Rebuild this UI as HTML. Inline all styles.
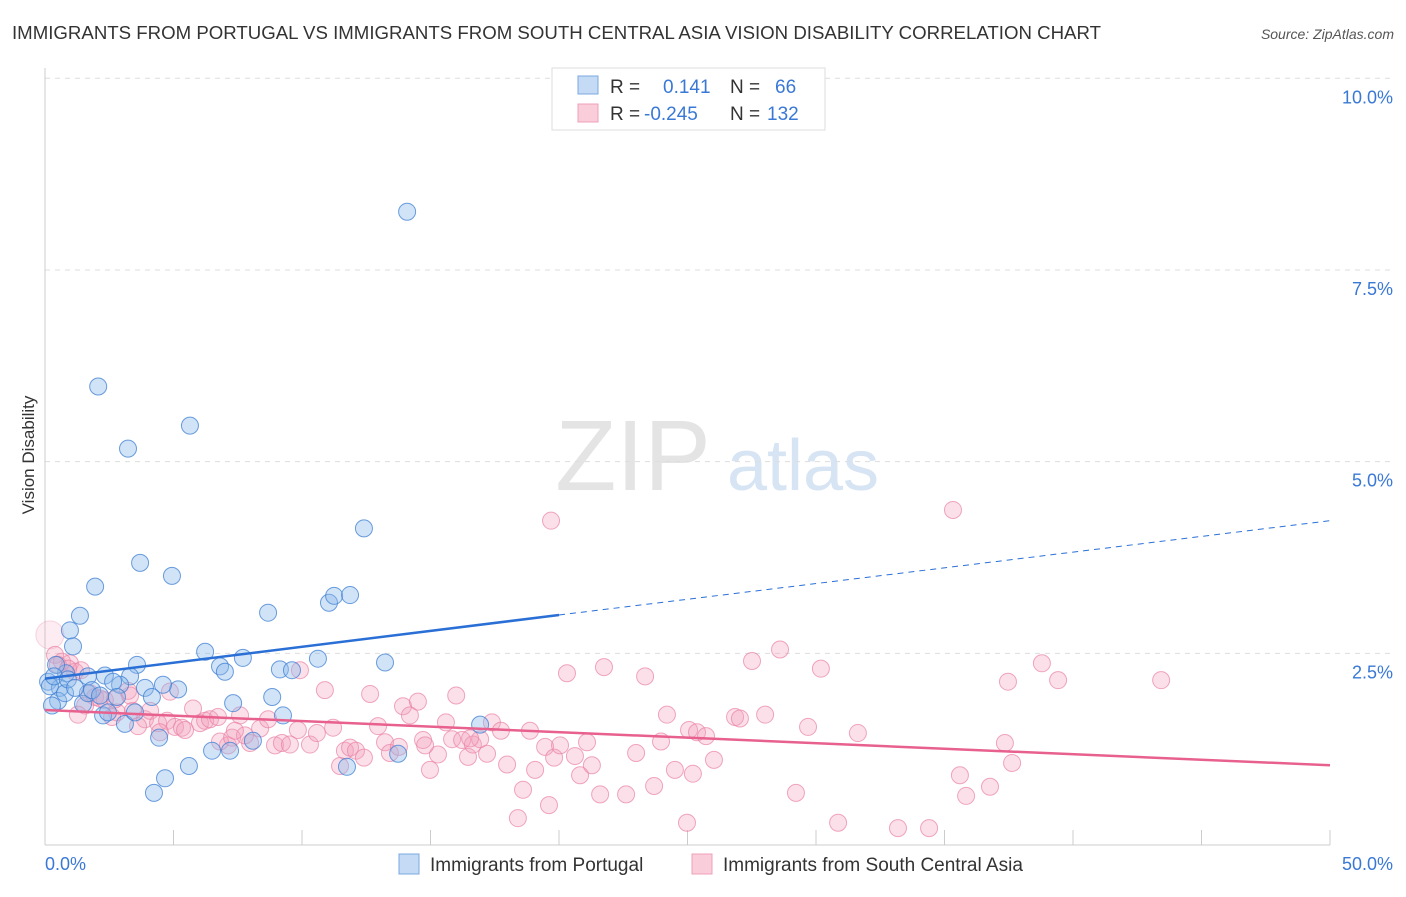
<!DOCTYPE html>
<html><head><meta charset="utf-8"><style>
body{margin:0;background:#fff;font-family:"Liberation Sans",sans-serif;}
svg text{font-family:"Liberation Sans",sans-serif;}
</style></head><body>
<svg id="chart" width="1406" height="892" xmlns="http://www.w3.org/2000/svg">
<text x="12" y="39" font-size="18" fill="#333" textLength="1089" lengthAdjust="spacingAndGlyphs">IMMIGRANTS FROM PORTUGAL VS IMMIGRANTS FROM SOUTH CENTRAL ASIA VISION DISABILITY CORRELATION CHART</text>
<text x="1394" y="39" font-size="14" fill="#555" font-style="italic" text-anchor="end">Source: ZipAtlas.com</text>
<text x="633" y="490" font-size="100" fill="#e4e4e4" font-family="Liberation Serif" text-anchor="middle">ZIP</text>
<text x="803" y="490" font-size="72" fill="#d6e4f4" text-anchor="middle">atlas</text>
<text transform="translate(34,455) rotate(-90)" font-size="17" fill="#333" text-anchor="middle">Vision Disability</text>
<g id="grid"></g><g id="pinkg"></g><g id="blueg"></g><g id="lines"></g>
<g>
<rect x="552" y="68" width="273" height="62" fill="#fff" stroke="#ddd"/>
<rect x="578" y="76" width="20" height="18" fill="#c5dbf5" stroke="#7aa8e0"/>
<rect x="578" y="104" width="20" height="18" fill="#f9cdd9" stroke="#eea0b8"/>
<text x="610" y="93" font-size="19" fill="#333">R =</text><text x="663" y="93" font-size="19" fill="#3a78d6">0.141</text>
<text x="730" y="93" font-size="19" fill="#333">N =</text><text x="775" y="93" font-size="19" fill="#3a78d6">66</text>
<text x="610" y="120" font-size="19" fill="#333">R =</text><text x="644" y="120" font-size="19" fill="#3a78d6">-0.245</text>
<text x="730" y="120" font-size="19" fill="#333">N =</text><text x="767" y="120" font-size="19" fill="#3a78d6">132</text>
</g>
<g>
<rect x="399" y="854" width="20" height="20" fill="#c5dbf5" stroke="#7aa8e0"/>
<text x="430" y="871" font-size="19" fill="#333">Immigrants from Portugal</text>
<rect x="692" y="854" width="20" height="20" fill="#f9cdd9" stroke="#eea0b8"/>
<text x="723" y="871" font-size="19" fill="#333">Immigrants from South Central Asia</text>
</g>
<text x="45" y="870" font-size="18" fill="#3a78d6">0.0%</text>
<text x="1393" y="870" font-size="18" fill="#3a78d6" text-anchor="end">50.0%</text>
</svg>
<script>
const yTicks=[2.5,5,7.5,10];
const yTickLabels=["2.5%","5.0%","7.5%","10.0%"];
const xTicks=[0,5,10,15,20,25,30,35,40,45,50];
const blueX=[2.07,5.64,3.23,14.09,12.41,3.70,4.94,1.95,1.36,0.97,1.09,8.68,11.05,11.25,11.87,6.23,7.70,6.81,7.00,9.14,9.61,10.62,13.23,3.58,2.33,3.31,1.67,0.82,0.43,0.12,0.58,0.51,1.48,2.92,2.65,3.89,5.18,4.59,4.16,1.67,1.83,2.80,2.26,2.45,3.11,3.50,7.32,8.84,9.26,4.44,6.50,7.20,8.09,11.75,13.74,5.60,4.67,4.24,16.93,0.19,0.35,0.78,2.14,0.89,1.17,0.27];
const blueY=[5.98,5.47,5.17,8.26,4.13,3.68,3.51,3.37,2.99,2.80,2.59,3.03,3.16,3.25,3.26,2.52,2.44,2.33,2.26,2.29,2.28,2.43,2.38,2.35,2.21,2.20,2.20,2.24,2.35,2.13,2.05,1.88,1.84,2.09,2.13,2.05,2.03,2.09,1.93,1.98,2.02,1.93,1.69,1.73,1.58,1.73,1.85,1.93,1.69,1.40,1.23,1.23,1.36,1.02,1.19,1.03,0.87,0.68,1.57,2.07,2.20,1.98,1.95,2.16,2.05,1.82];
const pinkX=[19.69,35.33,0.19,0.39,0.66,0.97,1.17,1.75,1.95,2.33,2.80,3.23,3.42,3.89,4.09,4.40,4.75,5.06,5.33,5.76,6.03,6.23,6.42,6.73,7.12,6.81,7.28,7.59,7.98,8.37,8.68,8.95,9.22,9.53,9.84,10.31,10.58,10.89,11.21,11.48,11.67,11.87,12.10,12.41,12.65,12.96,13.23,13.42,13.77,13.93,14.20,14.51,14.71,14.98,15.29,15.60,15.84,16.00,16.23,16.46,16.65,16.93,17.20,17.39,17.74,17.98,18.40,18.60,18.87,19.07,19.46,19.61,19.81,20.04,20.31,20.62,20.82,21.09,21.28,21.60,21.75,22.61,23.00,23.35,23.70,23.97,24.20,24.51,24.98,25.06,25.37,25.21,25.72,26.03,26.85,27.04,27.51,28.02,28.60,29.22,29.69,30.19,30.86,31.63,33.19,34.40,35.60,35.84,36.77,37.35,37.47,37.63,38.79,39.42,43.43,2.14,2.72,4.47,4.86,1.56,1.28,3.62,2.61,9.92,7.78,7.39,14.79,16.54,3.31,5.45,0.5,1.4,0.9];
const pinkY=[4.23,4.37,2.74,2.48,2.39,2.37,2.26,1.98,1.93,1.89,1.73,2.01,1.75,1.64,1.75,1.59,1.62,1.54,1.53,1.78,1.59,1.62,1.64,1.67,1.30,1.35,1.40,1.69,1.33,1.52,1.64,1.30,1.33,1.31,1.50,1.31,1.46,2.02,1.53,1.03,1.23,1.27,1.23,1.14,1.97,1.55,1.34,1.20,1.28,1.81,1.69,1.87,1.37,0.98,1.18,1.60,1.38,1.95,1.37,1.15,1.31,1.38,1.19,1.60,1.49,1.05,0.35,0.72,1.49,0.98,1.28,0.52,1.14,1.30,2.24,1.16,0.91,1.34,1.04,0.66,2.32,0.66,1.20,2.20,0.77,1.35,1.70,0.98,0.29,1.50,1.47,0.93,1.42,1.11,1.67,1.65,2.40,1.70,2.55,0.68,1.54,2.30,0.29,1.46,0.22,0.22,0.91,0.64,0.76,1.33,2.13,1.07,2.37,2.15,2.15,1.91,1.90,1.47,2.00,1.82,1.70,1.55,1.67,2.28,1.43,1.49,1.30,1.39,1.95,1.50,2.35,2.28,2.30];
const blueTrend=[[0,2.17],[20,3.0],[50,4.23]];
const pinkTrend=[[0,1.76],[50,1.04]];
const sx=v=>45+v*25.7, sy=v=>845-v*76.67;
const NS="http://www.w3.org/2000/svg";
function mk(t,a,p){const e=document.createElementNS(NS,t);for(const k in a)e.setAttribute(k,a[k]);p.appendChild(e);return e;}
const grid=document.getElementById('grid');
yTicks.forEach((v,i)=>{
 const l=mk('line',{x1:45,x2:1394,y1:sy(v),y2:sy(v),stroke:'#ddd','stroke-dasharray':'5,5'},grid);
 
 
 const t=mk('text',{x:1393,y:sy(v)+25,'font-size':18,fill:'#3a78d6','text-anchor':'end'},grid);
 t.textContent=yTickLabels[i];
 
 
});
mk('line',{x1:45,x2:45,y1:68,y2:845,stroke:'#ccc'},grid);
mk('line',{x1:45,x2:1330,y1:845,y2:845,stroke:'#ccc'},grid);
xTicks.forEach(v=>{const l=mk('line',{x1:sx(v),x2:sx(v),y1:830,y2:845,stroke:'#ccc'},grid);
 
 });
const pg=document.getElementById('pinkg');
pinkX.forEach((x,i)=>{const big=i==2;const c=mk('circle',{cx:sx(x),cy:sy(pinkY[i]),r:big?14:8.5,fill:big?'rgba(243,160,188,0.2)':'rgba(243,160,188,0.32)',stroke:big?'rgba(234,130,165,0.3)':'rgba(234,130,165,0.7)','stroke-width':1},pg);
 
 });
const bg=document.getElementById('blueg');
blueX.forEach((x,i)=>{const c=mk('circle',{cx:sx(x),cy:sy(blueY[i]),r:8.5,fill:'rgba(140,185,235,0.4)',stroke:'rgba(60,125,210,0.75)','stroke-width':1},bg);
 
 });
const lg=document.getElementById('lines');
let b=mk('line',{x1:sx(blueTrend[0][0]),y1:sy(blueTrend[0][1]),x2:sx(blueTrend[1][0]),y2:sy(blueTrend[1][1]),stroke:'#2a6fd6','stroke-width':2.5},lg);


let bd=mk('line',{x1:sx(blueTrend[1][0]),y1:sy(blueTrend[1][1]),x2:sx(blueTrend[2][0]),y2:sy(blueTrend[2][1]),stroke:'#2a6fd6','stroke-width':1,'stroke-dasharray':'6,5'},lg);


let p=mk('line',{x1:sx(pinkTrend[0][0]),y1:sy(pinkTrend[0][1]),x2:sx(pinkTrend[1][0]),y2:sy(pinkTrend[1][1]),stroke:'#e8608e','stroke-width':2.5},lg);


</script>
</body></html>
